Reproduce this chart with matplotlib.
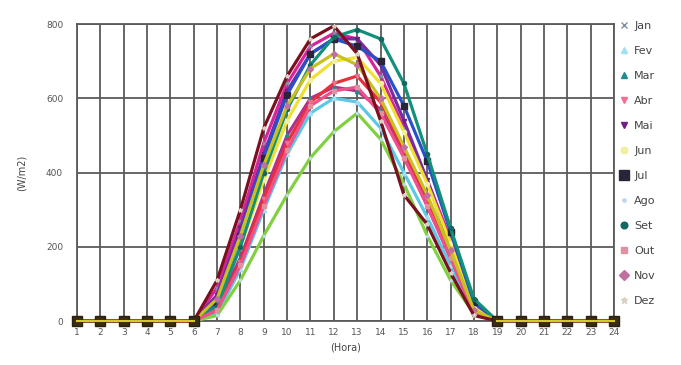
import matplotlib
matplotlib.use("Agg")
import matplotlib.pyplot as plt
import numpy as np

horas = list(range(1, 25))
meses = ['Jan', 'Fev', 'Mar', 'Abr', 'Mai', 'Jun', 'Jul', 'Ago', 'Set', 'Out', 'Nov', 'Dez']

# radiacao (W/m2) hora 7..18, zero no resto
z6 = [0, 0, 0, 0, 0, 0]
z = [0, 0, 0, 0, 0, 0]
jan = z6 + [90, 270, 480, 640, 740, 775, 760, 660, 520, 380, 220, 40] + z
fev = z6 + [20, 140, 300, 450, 560, 600, 590, 520, 400, 280, 150, 20] + z
mar = z6 + [40, 170, 340, 500, 600, 630, 620, 570, 450, 310, 170, 25] + z
abr = z6 + [30, 160, 330, 480, 590, 640, 660, 590, 460, 330, 180, 25] + z
mai = z6 + [70, 250, 450, 620, 720, 760, 760, 690, 540, 380, 200, 30] + z
jun = z6 + [50, 200, 380, 540, 650, 700, 710, 640, 510, 370, 210, 35] + z
jul = z6 + [50, 230, 440, 610, 720, 760, 740, 700, 580, 430, 240, 50] + z
ago = z6 + [15, 110, 230, 340, 440, 510, 560, 490, 370, 230, 110, 20] + z
set_ = z6 + [40, 200, 400, 570, 690, 765, 785, 760, 640, 450, 250, 60] + z
out = z6 + [30, 150, 310, 460, 580, 620, 630, 560, 440, 310, 170, 20] + z
nov = z6 + [60, 230, 420, 580, 680, 720, 690, 600, 470, 340, 190, 30] + z
dez = z6 + [110, 300, 520, 660, 760, 795, 720, 540, 340, 260, 130, 15] + z

series = [jan, fev, mar, abr, mai, jun, jul, ago, set_, out, nov, dez]
cores = ['#d6259b', '#5cc8e8', '#b03090', '#e8303a', '#7b2a9f', '#f0e030',
         '#2a50c8', '#80d040', '#11907a', '#f0508a', '#c8c020', '#7a1020']
marcas = ['x', '^', '^', 'v', 'v', 'o', 's', '.', 'o', 's', 'D', '*']
mcores = ['#8090a0', '#a0e0f0', '#208c8c', '#f07090', '#702080', '#f0f0a0',
          '#2a2438', '#c0d8f0', '#106860', '#e090a0', '#c070a0', '#d8d0c0']

fig = plt.figure(figsize=(6.81, 3.65), dpi=100)
ax = fig.add_axes([0.1131, 0.1205, 0.7885, 0.8137])

for i in range(12):
    ms = 4.5 if meses[i] == 'Jul' else 3
    ax.plot(horas, series[i], color=cores[i], lw=2.3, marker=marcas[i], ms=ms,
            mfc=mcores[i], mec=mcores[i], label=meses[i], zorder=3 + i,
            clip_on=False)

# horas sem sol: quadrados escuros com a linha amarela por cima
noite = list(range(0, 6)) + list(range(18, 24))
ax.plot([horas[k] for k in noite], [jul[k] for k in noite], 's', ms=7,
        mfc='#3a2c18', mec='#2a2010', zorder=19, clip_on=False)
ax.plot(horas[:6], nov[:6], color='#d8c828', lw=1.5, zorder=20, clip_on=False)
ax.plot(horas[18:], nov[18:], color='#d8c828', lw=1.5, zorder=20, clip_on=False)

ax.set_xlim(1, 24)
ax.set_ylim(0, 800)
ax.set_xticks(horas)
ax.set_yticks([0, 200, 400, 600, 800])
ax.grid(True, color='#5a5a5a', lw=1.3)
ax.set_axisbelow(True)
for s in ax.spines.values():
    s.set_color('#5a5a5a')
    s.set_linewidth(1.3)
ax.tick_params(labelsize=6.5, colors='#555555', length=0, pad=5)
ax.tick_params(axis='y', pad=10)
ax.set_xlabel('(Hora)', fontsize=7, color='#444444', labelpad=4)
ax.set_ylabel('(W/m2)', fontsize=7, color='#444444', labelpad=14)

fig.legend(loc='upper left', bbox_to_anchor=(0.91, 0.955), frameon=False,
           fontsize=8, labelspacing=1.35, handlelength=0, handletextpad=0.9,
           markerscale=1.6, borderaxespad=0, labelcolor='#444444')

fig.savefig('out.png', dpi=100)
